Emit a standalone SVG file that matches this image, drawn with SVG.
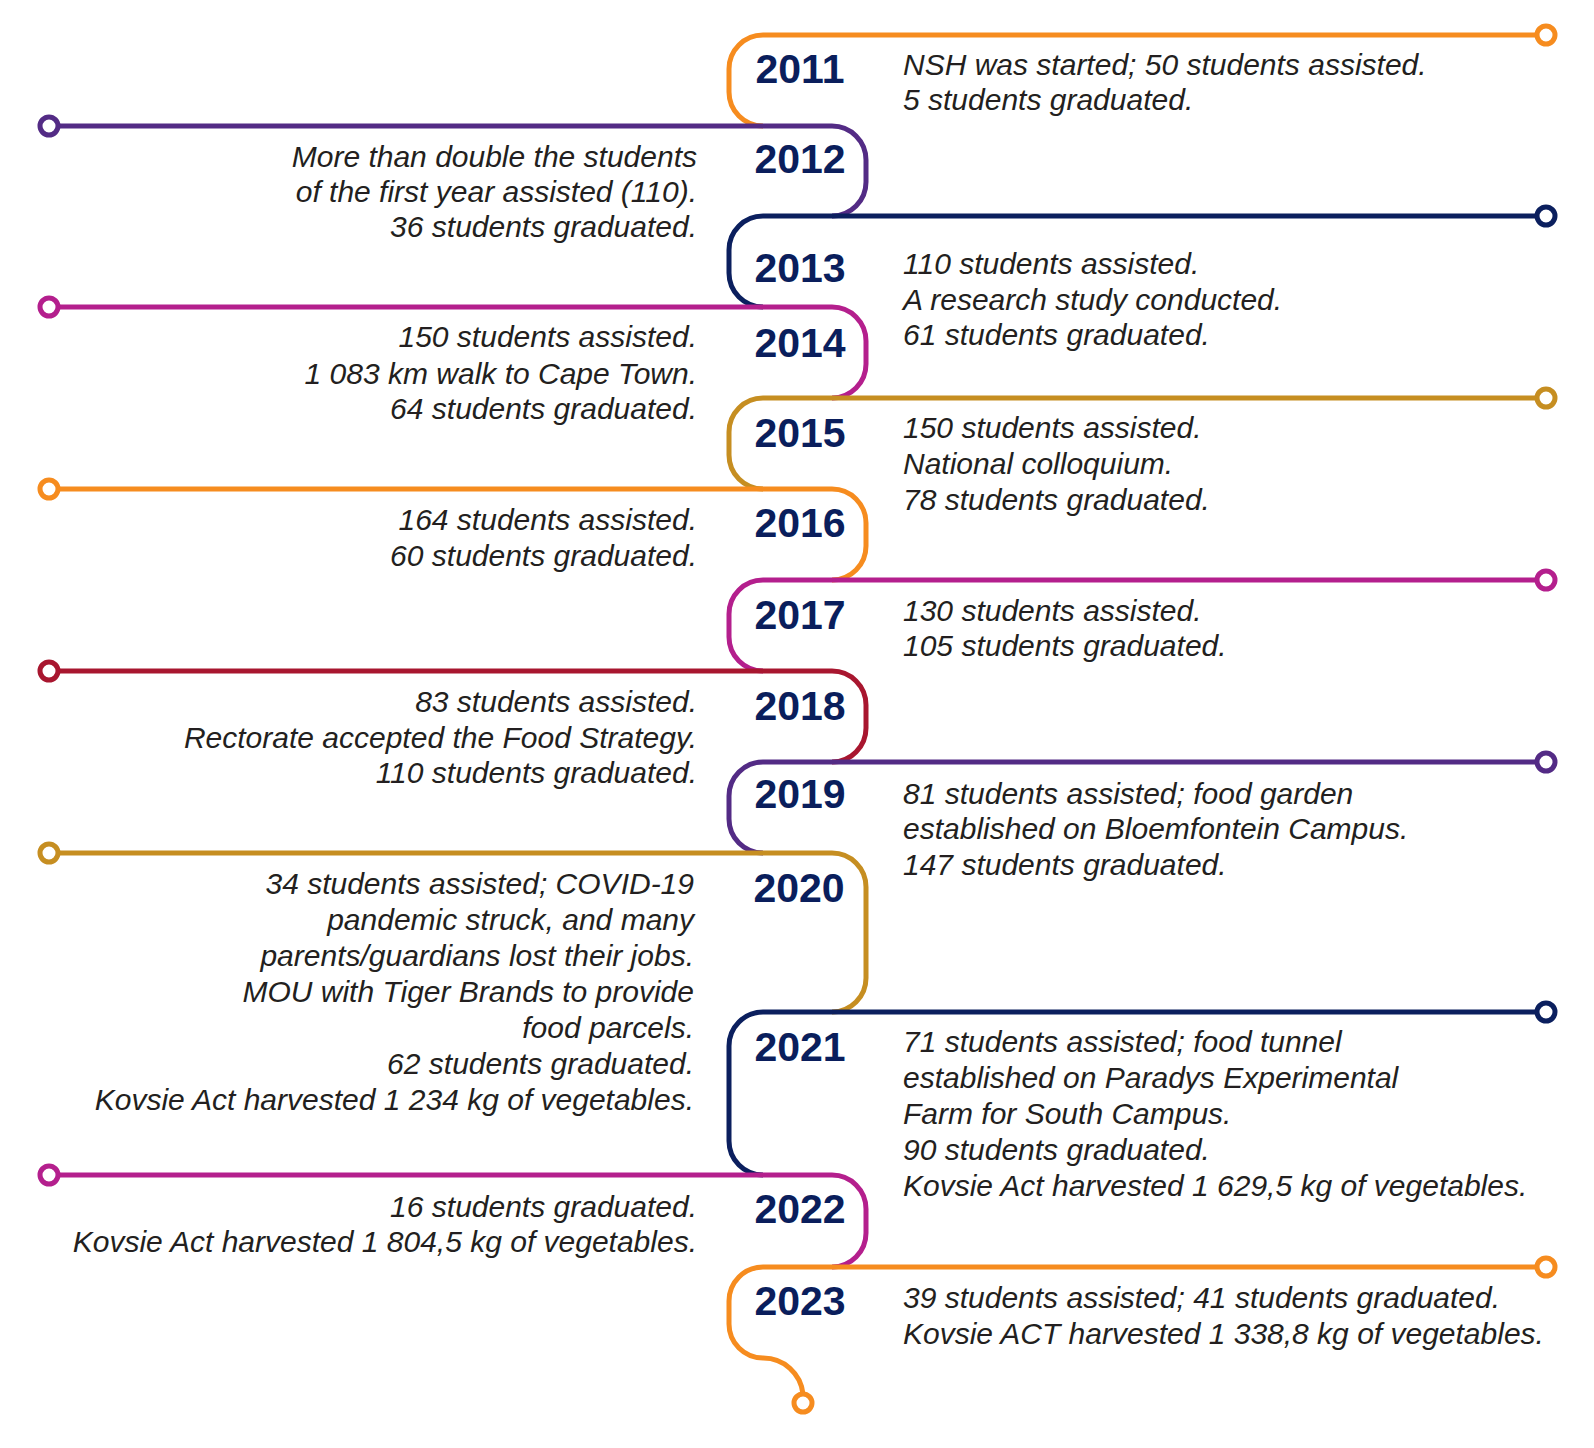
<svg xmlns="http://www.w3.org/2000/svg" width="1594" height="1448" viewBox="0 0 1594 1448">
<style>
.ln{fill:none;stroke-width:5;stroke-linecap:butt}
.dot{fill:#fff;stroke-width:5}
.yr{font-family:"Liberation Sans",Arial,sans-serif;font-weight:bold;font-size:41px;fill:#0a1e5c;text-anchor:middle}
.tx{font-family:"Liberation Sans",Arial,sans-serif;font-style:italic;font-size:30px;fill:#231f20}
.l{text-anchor:end}
.or{stroke:#f68c1f}.pu{stroke:#532b85}.nv{stroke:#0b1f5e}.mg{stroke:#b41f8d}.gd{stroke:#c68e21}.cr{stroke:#a8162f}
</style>
<rect width="1594" height="1448" fill="#fff"/>
<g id="connectors">
<path class="ln or" d="M1537 35H763A34 34 0 0 0 729 69V92A34 34 0 0 0 763 126"/>
<circle class="dot or" cx="1546" cy="35" r="9"/>
<path class="ln pu" d="M58 126H832A34 34 0 0 1 866 160V182A34 34 0 0 1 832 216"/>
<circle class="dot pu" cx="49" cy="126" r="9"/>
<path class="ln nv" d="M1537 216H763A34 34 0 0 0 729 250V273A34 34 0 0 0 763 307"/>
<circle class="dot nv" cx="1546" cy="216" r="9"/>
<path class="ln mg" d="M58 307H832A34 34 0 0 1 866 341V364A34 34 0 0 1 832 398"/>
<circle class="dot mg" cx="49" cy="307" r="9"/>
<path class="ln gd" d="M1537 398H763A34 34 0 0 0 729 432V455A34 34 0 0 0 763 489"/>
<circle class="dot gd" cx="1546" cy="398" r="9"/>
<path class="ln or" d="M58 489H832A34 34 0 0 1 866 523V546A34 34 0 0 1 832 580"/>
<circle class="dot or" cx="49" cy="489" r="9"/>
<path class="ln mg" d="M1537 580H763A34 34 0 0 0 729 614V637A34 34 0 0 0 763 671"/>
<circle class="dot mg" cx="1546" cy="580" r="9"/>
<path class="ln cr" d="M58 671H832A34 34 0 0 1 866 705V728A34 34 0 0 1 832 762"/>
<circle class="dot cr" cx="49" cy="671" r="9"/>
<path class="ln pu" d="M1537 762H763A34 34 0 0 0 729 796V819A34 34 0 0 0 763 853"/>
<circle class="dot pu" cx="1546" cy="762" r="9"/>
<path class="ln gd" d="M58 853H832A34 34 0 0 1 866 887V978A34 34 0 0 1 832 1012"/>
<circle class="dot gd" cx="49" cy="853" r="9"/>
<path class="ln nv" d="M1537 1012H763A34 34 0 0 0 729 1046V1141A34 34 0 0 0 763 1175"/>
<circle class="dot nv" cx="1546" cy="1012" r="9"/>
<path class="ln mg" d="M58 1175H832A34 34 0 0 1 866 1209V1233A34 34 0 0 1 832 1267"/>
<circle class="dot mg" cx="49" cy="1175" r="9"/>
<path class="ln or" d="M1537 1267H763A34 34 0 0 0 729 1301V1324A34 34 0 0 0 763 1358A40 40 0 0 1 803 1394"/>
<circle class="dot or" cx="1546" cy="1267" r="9"/>
<circle class="dot or" cx="803" cy="1403" r="9"/>
</g>
<g id="y2011"><text class="yr" x="800" y="83">2011</text>
<text class="tx" x="903"><tspan x="903" y="75">NSH was started; 50 students assisted.</tspan><tspan x="903" y="110">5 students graduated.</tspan></text></g>
<g id="y2012"><text class="yr" x="800" y="173">2012</text>
<text class="tx l"><tspan x="697" y="167">More than double the students</tspan><tspan x="697" y="202">of the first year assisted (110).</tspan><tspan x="697" y="237">36 students graduated.</tspan></text></g>
<g id="y2013"><text class="yr" x="800" y="282">2013</text>
<text class="tx"><tspan x="903" y="274">110 students assisted.</tspan><tspan x="903" y="310">A research study conducted.</tspan><tspan x="903" y="345">61 students graduated.</tspan></text></g>
<g id="y2014"><text class="yr" x="800" y="357">2014</text>
<text class="tx l"><tspan x="697" y="347">150 students assisted.</tspan><tspan x="697" y="384">1 083 km walk to Cape Town.</tspan><tspan x="697" y="419">64 students graduated.</tspan></text></g>
<g id="y2015"><text class="yr" x="800" y="447">2015</text>
<text class="tx"><tspan x="903" y="438">150 students assisted.</tspan><tspan x="903" y="474">National colloquium.</tspan><tspan x="903" y="510">78 students graduated.</tspan></text></g>
<g id="y2016"><text class="yr" x="800" y="537">2016</text>
<text class="tx l"><tspan x="697" y="530">164 students assisted.</tspan><tspan x="697" y="566">60 students graduated.</tspan></text></g>
<g id="y2017"><text class="yr" x="800" y="629">2017</text>
<text class="tx"><tspan x="903" y="621">130 students assisted.</tspan><tspan x="903" y="656">105 students graduated.</tspan></text></g>
<g id="y2018"><text class="yr" x="800" y="720">2018</text>
<text class="tx l"><tspan x="697" y="712">83 students assisted.</tspan><tspan x="697" y="748">Rectorate accepted the Food Strategy.</tspan><tspan x="697" y="783">110 students graduated.</tspan></text></g>
<g id="y2019"><text class="yr" x="800" y="808">2019</text>
<text class="tx"><tspan x="903" y="804">81 students assisted; food garden</tspan><tspan x="903" y="839">established on Bloemfontein Campus.</tspan><tspan x="903" y="875">147 students graduated.</tspan></text></g>
<g id="y2020"><text class="yr" x="799" y="902">2020</text>
<text class="tx l"><tspan x="694" y="894">34 students assisted; COVID-19</tspan><tspan x="694" y="930">pandemic struck, and many</tspan><tspan x="694" y="966">parents/guardians lost their jobs.</tspan><tspan x="694" y="1002">MOU with Tiger Brands to provide</tspan><tspan x="694" y="1038">food parcels.</tspan><tspan x="694" y="1074">62 students graduated.</tspan><tspan x="694" y="1110">Kovsie Act harvested 1 234 kg of vegetables.</tspan></text></g>
<g id="y2021"><text class="yr" x="800" y="1061">2021</text>
<text class="tx"><tspan x="903" y="1052">71 students assisted; food tunnel</tspan><tspan x="903" y="1088">established on Paradys Experimental</tspan><tspan x="903" y="1124">Farm for South Campus.</tspan><tspan x="903" y="1160">90 students graduated.</tspan><tspan x="903" y="1196">Kovsie Act harvested 1 629,5 kg of vegetables.</tspan></text></g>
<g id="y2022"><text class="yr" x="800" y="1223">2022</text>
<text class="tx l"><tspan x="697" y="1217">16 students graduated.</tspan><tspan x="697" y="1252">Kovsie Act harvested 1 804,5 kg of vegetables.</tspan></text></g>
<g id="y2023"><text class="yr" x="800" y="1315">2023</text>
<text class="tx"><tspan x="903" y="1308">39 students assisted; 41 students graduated.</tspan><tspan x="903" y="1344">Kovsie ACT harvested 1 338,8 kg of vegetables.</tspan></text></g>
</svg>
